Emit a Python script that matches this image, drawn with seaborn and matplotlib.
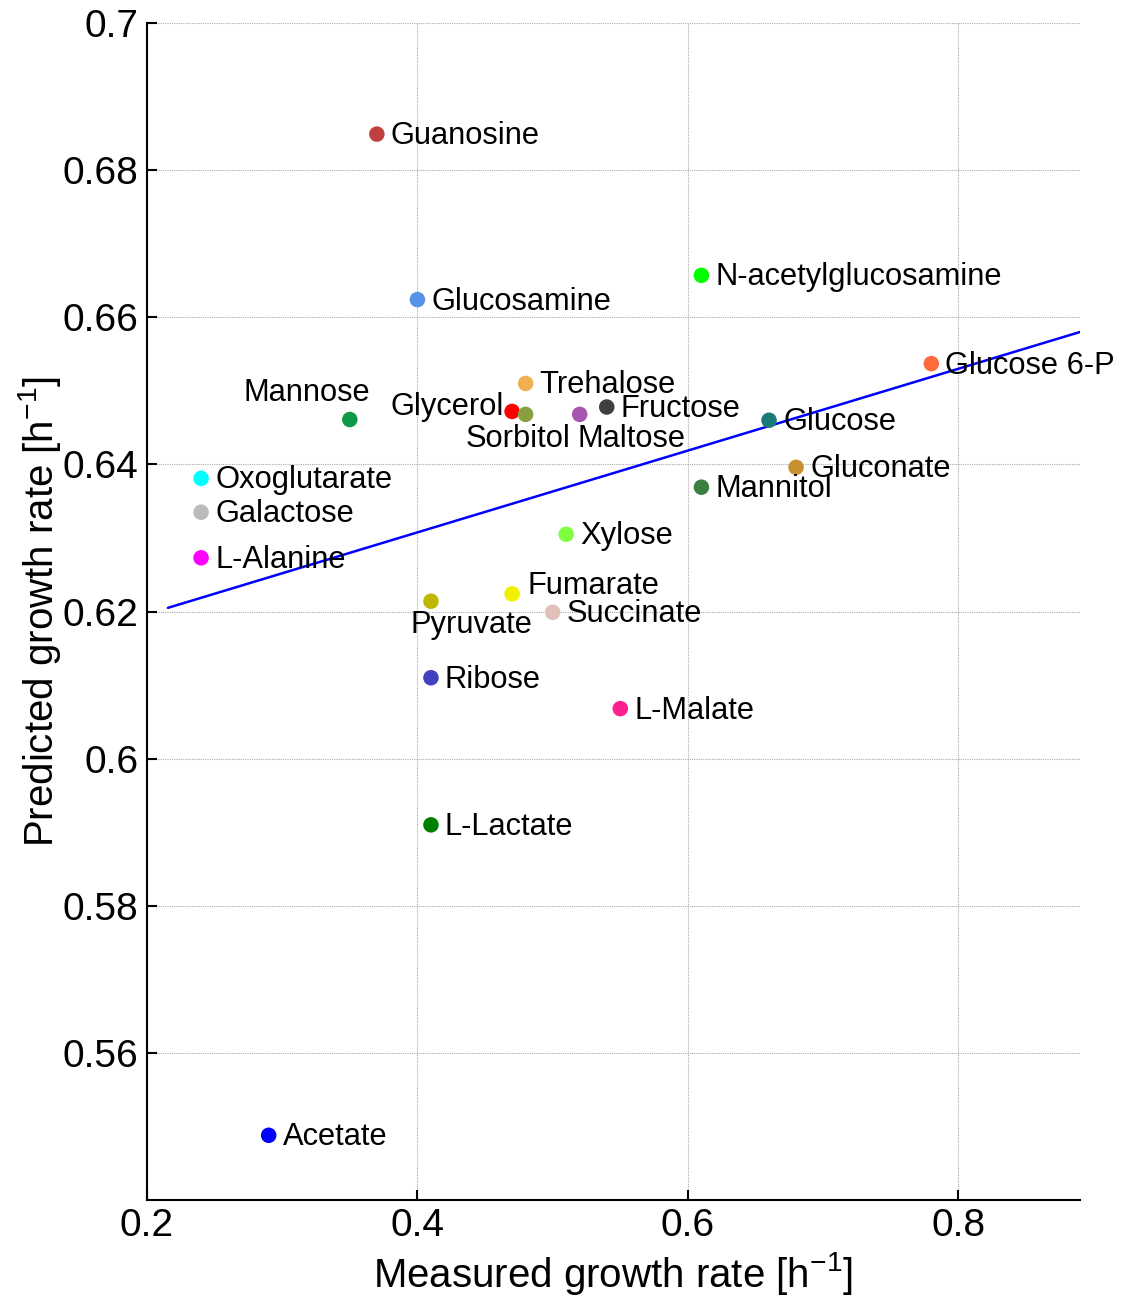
import matplotlib
matplotlib.use("Agg")
import matplotlib.pyplot as plt
import seaborn as sns
import pandas as pd
from matplotlib.ticker import FormatStrFormatter

# ---- data ----
names = ["Guanosine", "N-acetylglucosamine", "Glucosamine", "Glucose 6-P", "Trehalose",
         "Mannose", "Glycerol", "Sorbitol", "Maltose", "Fructose", "Glucose", "Gluconate",
         "Mannitol", "Oxoglutarate", "Galactose", "L-Alanine", "Xylose", "Fumarate",
         "Pyruvate", "Succinate", "Ribose", "L-Malate", "L-Lactate", "Acetate"]
measured = [0.37, 0.61, 0.40, 0.78, 0.48,
            0.35, 0.47, 0.48, 0.52, 0.54, 0.66, 0.68,
            0.61, 0.24, 0.24, 0.24, 0.51, 0.47,
            0.41, 0.50, 0.41, 0.55, 0.41, 0.29]
predicted = [0.6849, 0.6657, 0.6624, 0.6537, 0.6510,
             0.6461, 0.6472, 0.6468, 0.6468, 0.6478, 0.6460, 0.6396,
             0.6369, 0.6381, 0.6335, 0.6273, 0.6305, 0.6224,
             0.6214, 0.6199, 0.6110, 0.6068, 0.5910, 0.5488]
colors = ["#C0403F", "#00FF00", "#5592E8", "#FF6A3D", "#F0B050",
          "#0E9A48", "#FF0000", "#88A040", "#A855B0", "#404040", "#1A7A78", "#C89030",
          "#3C8040", "#00FFFF", "#BBBBBB", "#FF00FF", "#80FF40", "#F0F000",
          "#C0B800", "#E0C0B8", "#4040C0", "#FF2090", "#008000", "#0000FF"]
fit_x = [0.2155, 0.89]
fit_y = [0.6205, 0.658]
x_ticks = [0.2, 0.4, 0.6, 0.8]
y_ticks = [0.56, 0.58, 0.60, 0.62, 0.64, 0.66, 0.68, 0.70]

# ---- label placement (pixel offsets: dx, dy(up), ha) ----
label_pos = {
    "Mannose": (20, 29, "right"),
    "Glycerol": (-8, 6, "right"),
    "Sorbitol": (-60, -23, "left"),
    "Maltose": (-2, -23, "left"),
    "Fumarate": (15, 10, "left"),
    "Pyruvate": (-20, -22, "left"),
}
default_pos = (14, 0, "left")

sns.set_theme(style="white")
plt.rcParams["font.family"] = ["Liberation Sans", "DejaVu Sans"]
plt.rcParams["mathtext.fontset"] = "custom"
plt.rcParams["mathtext.rm"] = "Liberation Sans"
plt.rcParams["mathtext.it"] = "Liberation Sans"

df = pd.DataFrame({"name": names, "measured": measured, "predicted": predicted})
palette = dict(zip(names, colors))

fig = plt.figure(figsize=(11.22, 13), dpi=100)
ax = fig.add_axes([0.131, 0.0769, 0.9626 - 0.131, 0.9823 - 0.0769])

ax.plot(fit_x, fit_y, color="#0000FF", lw=1.8, zorder=2)
sns.scatterplot(data=df, x="measured", y="predicted", hue="name", palette=palette,
                s=125, linewidth=0, legend=False, ax=ax, zorder=3)

px = 0.72
for n, xv, yv in zip(names, measured, predicted):
    dx, dy, ha = label_pos.get(n, default_pos)
    ax.annotate(n, (xv, yv), xytext=(dx * px, (dy - 2) * px), textcoords="offset points",
                ha=ha, va="center", fontsize=22.2, color="black", zorder=4)

ax.set_xlim(0.2, 0.89)
ax.set_ylim(0.54, 0.70)
ax.set_xticks(x_ticks)
ax.set_yticks(y_ticks)
ax.xaxis.set_major_formatter(FormatStrFormatter("%g"))
ax.yaxis.set_major_formatter(FormatStrFormatter("%g"))
ax.grid(True, linestyle=(0, (1, 1)), color="#aaaaaa", linewidth=0.8)
ax.set_axisbelow(True)
for side in ["top", "right"]:
    ax.spines[side].set_visible(False)
for side in ["left", "bottom"]:
    ax.spines[side].set_color("black")
    ax.spines[side].set_linewidth(1.5)
ax.tick_params(direction="in", length=7, width=1.5, labelsize=28, colors="black",
               left=True, bottom=True, pad=6)
ax.set_xlabel(r"Measured growth rate [h$^{\mathregular{-1}}$]", fontsize=29,
              labelpad=4, color="black")
ax.set_ylabel(r"Predicted growth rate [h$^{\mathregular{-1}}$]", fontsize=29,
              labelpad=0, color="black")

fig.savefig("out.png", dpi=100, facecolor="white")
